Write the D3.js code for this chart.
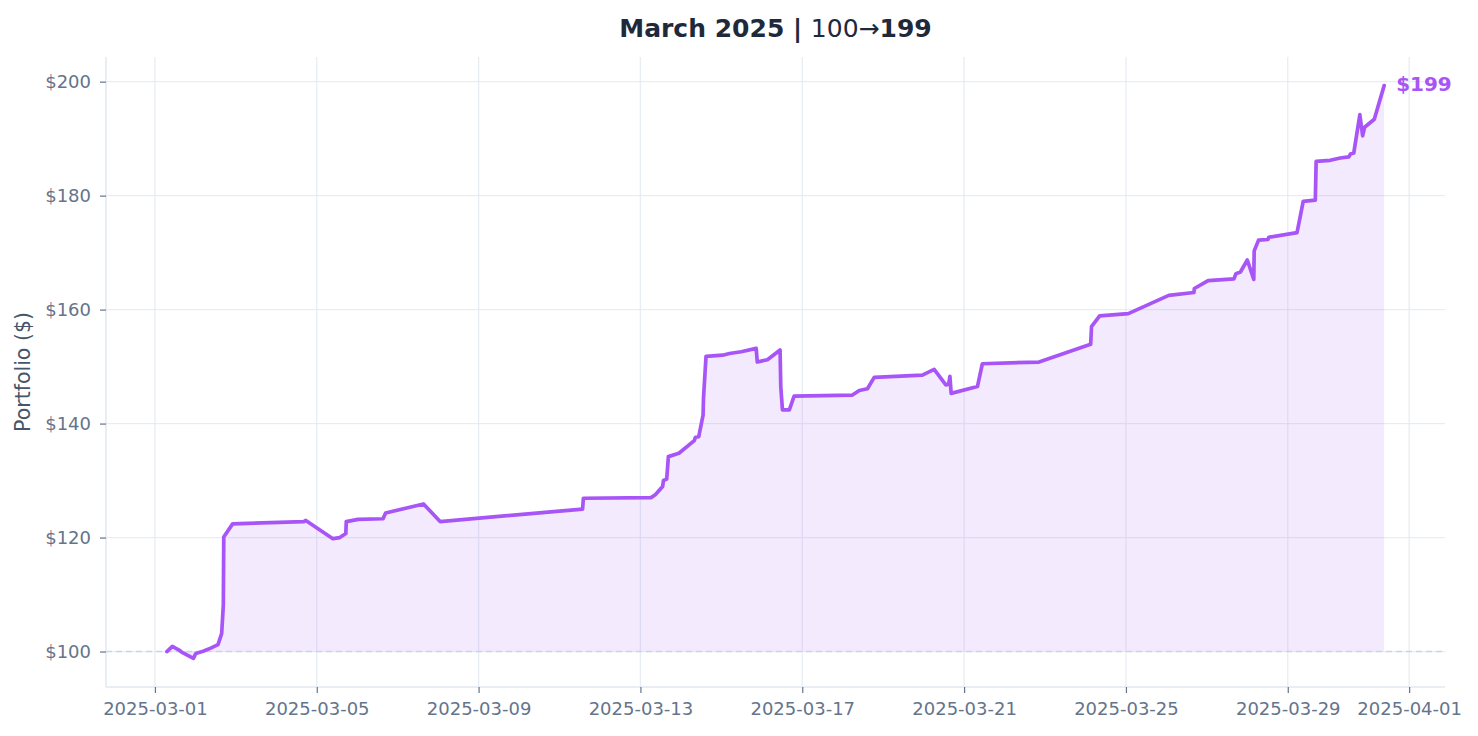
<!DOCTYPE html>
<html>
<head>
<meta charset="utf-8">
<script src="https://cdn.jsdelivr.net/npm/d3@7"></script>
<style>
  body { margin: 0; background: #fff; }
  svg { font-family: "DejaVu Sans", sans-serif; }
</style>
</head>
<body>
<svg id="chart" width="1478" height="736"></svg>
<script>
// portfolio value over March 2025
const times = [
  "2025-03-01 07:05", "2025-03-01 10:20", "2025-03-01 13:50", "2025-03-01 15:50", "2025-03-01 22:50",
  "2025-03-02 00:15", "2025-03-02 04:35", "2025-03-02 09:05", "2025-03-02 13:25", "2025-03-02 15:35",
  "2025-03-02 16:35", "2025-03-02 16:50", "2025-03-02 22:05", "2025-03-04 16:20", "2025-03-04 17:30",
  "2025-03-05 09:35", "2025-03-05 13:40", "2025-03-05 17:15", "2025-03-05 17:30", "2025-03-06 00:30",
  "2025-03-06 15:20", "2025-03-06 16:50", "2025-03-07 15:20", "2025-03-08 01:10", "2025-03-11 13:40",
  "2025-03-11 14:10", "2025-03-13 06:15", "2025-03-13 08:50", "2025-03-13 13:10", "2025-03-13 13:40",
  "2025-03-13 15:35", "2025-03-13 16:35", "2025-03-13 22:50", "2025-03-14 07:55", "2025-03-14 08:40",
  "2025-03-14 10:35", "2025-03-14 13:10", "2025-03-14 13:25", "2025-03-14 14:55", "2025-03-15 00:45",
  "2025-03-15 04:50", "2025-03-15 11:45", "2025-03-15 20:40", "2025-03-15 21:20", "2025-03-16 03:20",
  "2025-03-16 10:50", "2025-03-16 11:15", "2025-03-16 12:15", "2025-03-16 16:20", "2025-03-16 19:10",
  "2025-03-18 05:45", "2025-03-18 09:50", "2025-03-18 14:40", "2025-03-18 18:40", "2025-03-19 23:15",
  "2025-03-20 06:15", "2025-03-20 13:10", "2025-03-20 14:50", "2025-03-20 15:35", "2025-03-20 16:20",
  "2025-03-21 07:55", "2025-03-21 10:50", "2025-03-22 20:25", "2025-03-24 03:05", "2025-03-24 03:35",
  "2025-03-24 08:25", "2025-03-25 01:25", "2025-03-26 01:25", "2025-03-26 16:20", "2025-03-26 16:35",
  "2025-03-27 00:45", "2025-03-27 16:05", "2025-03-27 17:15", "2025-03-27 19:55", "2025-03-28 00:00",
  "2025-03-28 03:50", "2025-03-28 04:05", "2025-03-28 06:40", "2025-03-28 12:15", "2025-03-28 12:45",
  "2025-03-29 05:30", "2025-03-29 09:10", "2025-03-29 16:20", "2025-03-29 16:50", "2025-03-30 01:10",
  "2025-03-30 07:10", "2025-03-30 12:15", "2025-03-30 13:10", "2025-03-30 15:10", "2025-03-30 18:45",
  "2025-03-30 20:25", "2025-03-30 21:35", "2025-03-31 03:20", "2025-03-31 09:10"
];
const values = [
  100.0, 100.9, 100.35, 99.9, 98.8,
  99.65, 100.05, 100.6, 101.2, 103.15,
  108.2, 120.1, 122.4, 122.8, 123.0,
  119.8, 120.0, 120.7, 122.8, 123.2,
  123.3, 124.3, 125.9, 122.8, 125.0,
  126.9, 127.0, 127.5, 128.95, 130.0,
  130.25, 134.2, 134.8, 137.0, 137.6,
  137.7, 141.5, 144.5, 151.8, 152.0,
  152.3, 152.6, 153.2, 150.8, 151.2,
  152.9, 146.5, 142.4, 142.4, 144.8,
  145.0, 145.8, 146.1, 148.1, 148.5,
  149.5, 146.8, 146.9, 148.3, 145.3,
  146.5, 150.5, 150.8, 153.9, 157.0,
  158.9, 159.3, 162.5, 163.0, 163.7,
  165.1, 165.4, 166.3, 166.6, 168.7,
  165.3, 170.3, 172.2, 172.3, 172.7,
  173.5, 179.0, 179.2, 186.0, 186.2,
  186.6, 186.8, 187.3, 187.5, 194.2,
  190.5, 192.0, 193.4, 199.3
];
const startValue = 100;
const endValue = 199;
const yTicks = [100, 120, 140, 160, 180, 200];
const xTickLabels = ["2025-03-01", "2025-03-05", "2025-03-09", "2025-03-13", "2025-03-17",
                     "2025-03-21", "2025-03-25", "2025-03-29", "2025-04-01"];

const parseTime = d3.timeParse("%Y-%m-%d %H:%M");
const parseDay = d3.timeParse("%Y-%m-%d");
const data = times.map((t, i) => ({ date: parseTime(t), value: values[i] }));

const margin = { top: 57, right: 33, bottom: 49, left: 106 };
const fullWidth = 1478;
const fullHeight = 736;
const width = fullWidth - margin.left - margin.right;
const height = fullHeight - margin.top - margin.bottom;

const svg = d3.select("#chart");
const g = svg.append("g").attr("transform", `translate(${margin.left},${margin.top})`);

// 5% padding on both axes, like matplotlib margins
const [t0, t1] = d3.extent(data, d => d.date);
const tPad = (t1 - t0) * 0.05;
const x = d3.scaleTime()
    .domain([new Date(+t0 - tPad), new Date(+t1 + tPad)])
    .range([0, width]);

const [v0, v1] = d3.extent(data, d => d.value);
const vPad = (v1 - v0) * 0.05;
const y = d3.scaleLinear()
    .domain([v0 - vPad, v1 + vPad])
    .range([height, 0]);

const purple = "#a855f7";
const tickDates = xTickLabels.map(parseDay);

// grid
g.append("g")
    .selectAll("line.vx")
    .data(tickDates)
    .enter().append("line")
    .attr("x1", d => x(d)).attr("x2", d => x(d))
    .attr("y1", 0).attr("y2", height)
    .style("stroke", "#e2e8f0").style("stroke-opacity", 0.8).style("stroke-width", 1.3);

g.append("g")
    .selectAll("line.hy")
    .data(yTicks)
    .enter().append("line")
    .attr("x1", 0).attr("x2", width)
    .attr("y1", d => y(d)).attr("y2", d => y(d))
    .style("stroke", "#e2e8f0").style("stroke-opacity", 0.8).style("stroke-width", 1.3);

// area down to the starting value
const area = d3.area()
    .x(d => x(d.date))
    .y0(y(startValue))
    .y1(d => y(d.value));

g.append("path")
    .datum(data)
    .attr("d", area)
    .style("fill", purple)
    .style("fill-opacity", 0.12);

// baseline
g.append("line")
    .attr("x1", 0).attr("x2", width)
    .attr("y1", y(startValue)).attr("y2", y(startValue))
    .style("stroke", "#cbd5e1")
    .style("stroke-width", 1.6)
    .style("stroke-dasharray", "6,4");

const line = d3.line()
    .x(d => x(d.date))
    .y(d => y(d.value));

g.append("path")
    .datum(data)
    .attr("d", line)
    .style("fill", "none")
    .style("stroke", purple)
    .style("stroke-width", 3.7)
    .style("stroke-linejoin", "round")
    .style("stroke-linecap", "round");

// end label
const last = data[data.length - 1];
g.append("text")
    .attr("x", x(last.date) + 12)
    .attr("y", y(last.value) - 2)
    .attr("dominant-baseline", "central")
    .style("fill", purple)
    .style("font-size", "20px")
    .style("font-weight", "bold")
    .text(`$${endValue}`);

// axes
const xAxis = g.append("g")
    .attr("transform", `translate(0,${height})`)
    .call(d3.axisBottom(x).tickValues(tickDates).tickFormat(d3.timeFormat("%Y-%m-%d")).tickSize(6).tickPadding(9));

const yAxis = g.append("g")
    .call(d3.axisLeft(y).tickValues(yTicks).tickFormat(d => `$${d}`).tickSize(6).tickPadding(9));

[xAxis, yAxis].forEach(a => {
    a.select(".domain").style("stroke", "#e2e8f0").style("stroke-width", 1.5);
    a.selectAll(".tick line").style("stroke", "#64748b").style("stroke-width", 1.2);
    a.selectAll(".tick text")
        .style("fill", "#64748b")
        .style("font-size", "18px")
        .style("font-family", "DejaVu Sans");
});
// only left and bottom spines, spanning the whole plot
xAxis.select(".domain").attr("d", `M0,0H${width}`);
yAxis.select(".domain").attr("d", `M0,0V${height}`);

// y label
svg.append("text")
    .attr("transform", `translate(23,${margin.top + height / 2}) rotate(-90)`)
    .attr("text-anchor", "middle")
    .attr("dominant-baseline", "central")
    .style("fill", "#475569")
    .style("font-size", "20.5px")
    .text("Portfolio ($)");

// title
const title = svg.append("text")
    .attr("x", margin.left + width / 2)
    .attr("y", 37)
    .attr("text-anchor", "middle")
    .style("fill", "#1e293b")
    .style("font-size", "25px");
title.append("tspan").style("font-weight", "bold").text("March 2025 | ");
title.append("tspan").text(`${startValue}→`);
title.append("tspan").style("font-weight", "bold").text(`${endValue}`);
</script>
</body>
</html>
